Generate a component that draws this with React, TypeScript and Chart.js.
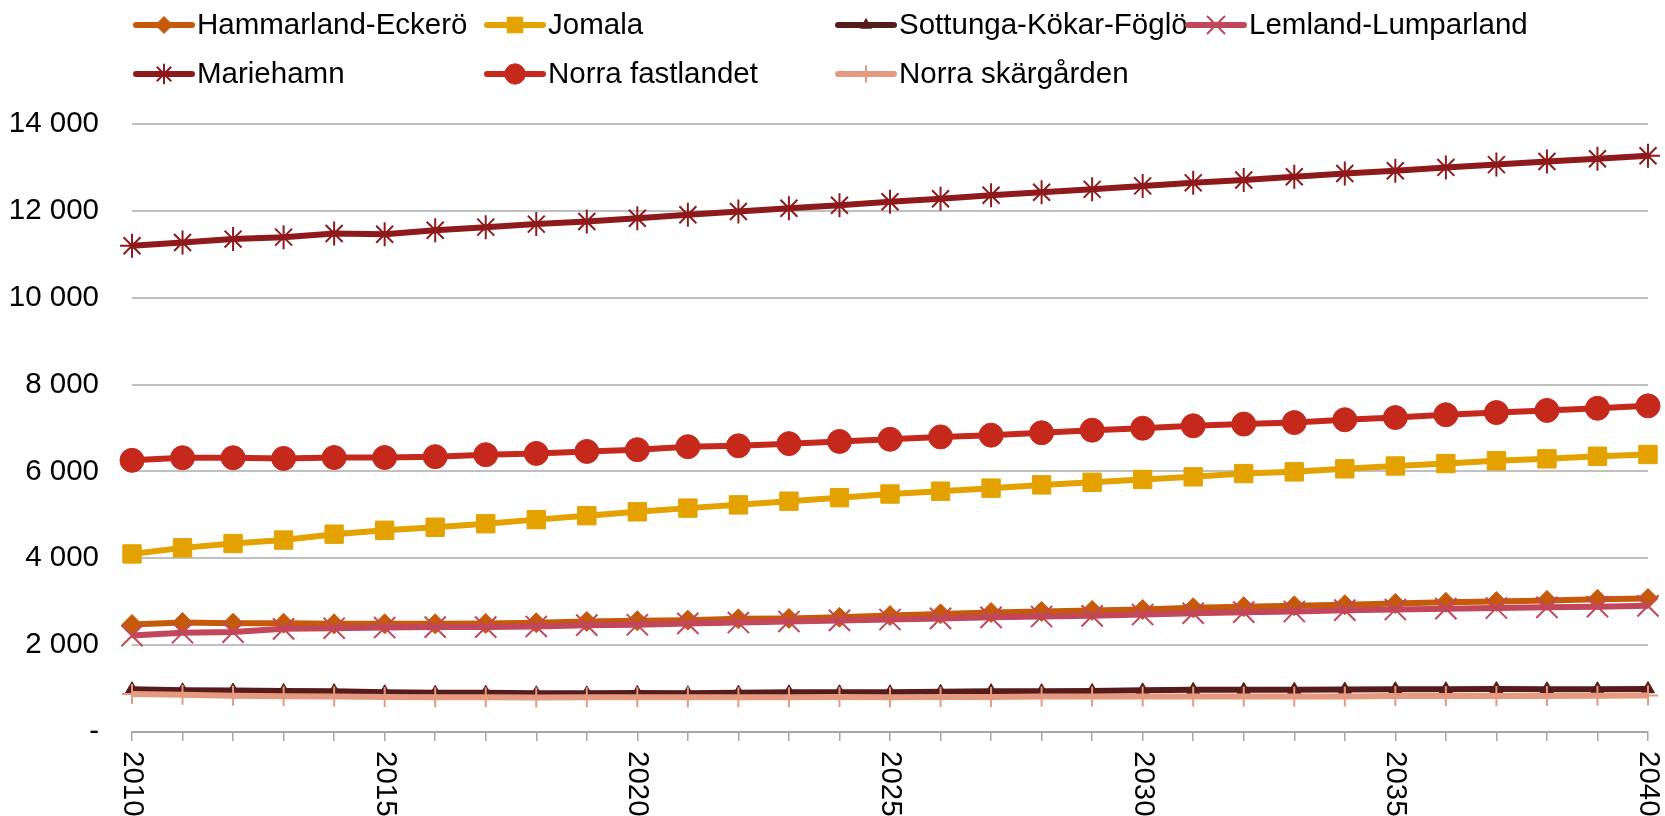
import React, { useEffect, useRef } from 'react';
import { Chart, registerables } from 'chart.js';
import { drawPoint } from 'chart.js/helpers';

Chart.register(...registerables);

const years = [
  '2010', '2011', '2012', '2013', '2014', '2015', '2016', '2017', '2018', '2019',
  '2020', '2021', '2022', '2023', '2024', '2025', '2026', '2027', '2028', '2029',
  '2030', '2031', '2032', '2033', '2034', '2035', '2036', '2037', '2038', '2039', '2040',
];
const shownYearLabels = ['2010', '2015', '2020', '2025', '2030', '2035', '2040'];
const yTickStep = 2000;
const yMax = 14000;

const hammarlandEckero = [2475, 2520, 2505, 2505, 2490, 2490, 2490, 2500, 2515, 2545, 2560, 2575, 2605, 2615, 2640, 2680, 2720, 2750, 2775, 2800, 2820, 2860, 2885, 2905, 2930, 2960, 2985, 3005, 3030, 3055, 3075];
const jomala = [4100, 4240, 4340, 4420, 4555, 4645, 4715, 4795, 4890, 4980, 5070, 5155, 5230, 5315, 5395, 5480, 5545, 5615, 5690, 5750, 5815, 5875, 5950, 5990, 6060, 6125, 6180, 6245, 6290, 6350, 6390];
const sottungaKokarFoglo = [985, 960, 955, 945, 940, 915, 905, 905, 890, 890, 900, 890, 905, 915, 915, 915, 925, 940, 940, 945, 960, 970, 970, 975, 980, 985, 985, 990, 985, 985, 990];
const lemlandLumparland = [2220, 2285, 2300, 2375, 2390, 2405, 2415, 2415, 2430, 2460, 2470, 2500, 2520, 2545, 2570, 2590, 2615, 2640, 2660, 2675, 2705, 2735, 2760, 2775, 2805, 2820, 2840, 2855, 2870, 2885, 2905];
const mariehamn = [11195, 11270, 11350, 11395, 11480, 11460, 11555, 11625, 11695, 11755, 11830, 11910, 11985, 12060, 12130, 12210, 12280, 12360, 12430, 12495, 12575, 12645, 12710, 12785, 12860, 12925, 13000, 13065, 13135, 13200, 13270];
const norraFastlandet = [6255, 6315, 6315, 6300, 6320, 6320, 6340, 6385, 6415, 6460, 6500, 6570, 6590, 6640, 6690, 6740, 6795, 6835, 6890, 6950, 6995, 7050, 7090, 7125, 7190, 7240, 7305, 7355, 7405, 7455, 7510];
const norraSkargarden = [875, 855, 835, 825, 815, 805, 800, 800, 795, 800, 800, 800, 800, 800, 805, 800, 805, 805, 815, 815, 815, 815, 820, 820, 820, 830, 830, 830, 830, 835, 840];

const seriesNames = ['Hammarland-Eckerö', 'Jomala', 'Sottunga-Kökar-Föglö', 'Lemland-Lumparland', 'Mariehamn', 'Norra fastlandet', 'Norra skärgården'];
const seriesData = [hammarlandEckero, jomala, sottungaKokarFoglo, lemlandLumparland, mariehamn, norraFastlandet, norraSkargarden];
const seriesColors = ['#C55A0A', '#E3A200', '#561B1B', '#C2475B', '#8E1A1C', '#C4291B', '#E59A80'];
const seriesStyles = ['rectRot', 'rect', 'triangle', 'crossRot', 'star', 'circle', 'cross'];
const seriesRadius = [10, 13, 7.5, 15, 12, 12, 10];
const seriesPointBorder = [1, 1, 1, 2, 2, 1, 2];

const FONT = '"Liberation Sans", Arial, Helvetica, sans-serif';
const FONT_SIZE = 29.5;

const fmt = (v: number) => {
  if (v === 0) return '-';
  const s = String(Math.round(v));
  return s.replace(/\B(?=(\d{3})+(?!\d))/g, ' ');
};

const xLabelPlugin = {
  id: 'rotatedXLabels',
  afterDraw(chart: any) {
    const { ctx } = chart;
    const xs = chart.scales.x;
    ctx.save();
    ctx.font = `${FONT_SIZE}px ${FONT}`;
    ctx.fillStyle = '#000';
    ctx.textAlign = 'left';
    ctx.textBaseline = 'middle';
    years.forEach((yr, i) => {
      if (!shownYearLabels.includes(yr)) return;
      const px = xs.getPixelForValue(i);
      ctx.save();
      ctx.translate(px, xs.bottom + 10);
      ctx.rotate(Math.PI / 2);
      ctx.fillText(yr, 0, 0);
      ctx.restore();
    });
    ctx.restore();
  },
};

const legendPlugin = {
  id: 'gridLegend',
  afterDraw(chart: any) {
    const { ctx } = chart;
    ctx.save();
    ctx.font = `${FONT_SIZE}px ${FONT}`;
    ctx.textAlign = 'left';
    ctx.textBaseline = 'middle';
    const colX = [136, 487, 838, 1188];
    const rowY = [25, 74];
    chart.data.datasets.forEach((ds: any, i: number) => {
      const x0 = colX[i % 4];
      const y = rowY[Math.floor(i / 4)];
      ctx.strokeStyle = ds.borderColor;
      ctx.fillStyle = ds.borderColor;
      ctx.lineWidth = 6;
      ctx.lineCap = 'round';
      ctx.beginPath();
      ctx.moveTo(x0, y);
      ctx.lineTo(x0 + 56, y);
      ctx.stroke();
      ctx.lineCap = 'butt';
      ctx.lineWidth = ds.pointBorderWidth;
      drawPoint(ctx, { pointStyle: ds.pointStyle, radius: ds.pointRadius * 0.85, borderWidth: ds.pointBorderWidth, rotation: 0 }, x0 + 28, y);
      ctx.fillStyle = '#000';
      ctx.fillText(ds.label, x0 + 61, y + 1);
    });
    ctx.restore();
  },
};

export default function App() {
  const ref = useRef<HTMLCanvasElement | null>(null);
  useEffect(() => {
    if (!ref.current) return;
    Chart.defaults.font.family = FONT;
    const chart = new Chart(ref.current, {
      type: 'line',
      data: {
        labels: years,
        datasets: seriesNames.map((name, i) => ({
          label: name,
          data: seriesData[i],
          borderColor: seriesColors[i],
          backgroundColor: seriesColors[i],
          borderWidth: 6,
          pointStyle: seriesStyles[i] as any,
          pointRadius: seriesRadius[i],
          pointBorderWidth: seriesPointBorder[i],
          pointBackgroundColor: seriesColors[i],
          pointBorderColor: seriesColors[i],
          tension: 0,
          fill: false,
          order: seriesNames.length - i,
        })),
      },
      options: {
        animation: false,
        responsive: true,
        maintainAspectRatio: false,
        layout: { padding: { left: 8, right: 17, top: 124, bottom: 75 } },
        plugins: {
          legend: { display: false },
          tooltip: { enabled: false },
        },
        scales: {
          x: {
            type: 'category',
            offset: false,
            grid: {
              display: true,
              drawOnChartArea: false,
              drawTicks: true,
              tickLength: 9,
              color: '#a6a6a6',
              lineWidth: 1.5,
            },
            border: { display: true, color: '#a6a6a6', width: 2 },
            ticks: { display: false, autoSkip: false },
          },
          y: {
            min: 0,
            max: yMax,
            afterFit: (scale: any) => { scale.width = 124; },
            ticks: {
              stepSize: yTickStep,
              padding: 33,
              color: '#000',
              font: { size: FONT_SIZE, family: FONT },
              callback: (v: any) => fmt(Number(v)),
            },
            grid: { color: '#c0c0c0', lineWidth: 2, drawTicks: false },
            border: { display: false },
          },
        },
      },
      plugins: [xLabelPlugin, legendPlugin],
    });
    return () => chart.destroy();
  }, []);
  return (
    <div style={{ position: 'absolute', left: 0, top: 0, width: '1665px', height: '816px', background: '#fff' }}>
      <canvas ref={ref} />
    </div>
  );
}
